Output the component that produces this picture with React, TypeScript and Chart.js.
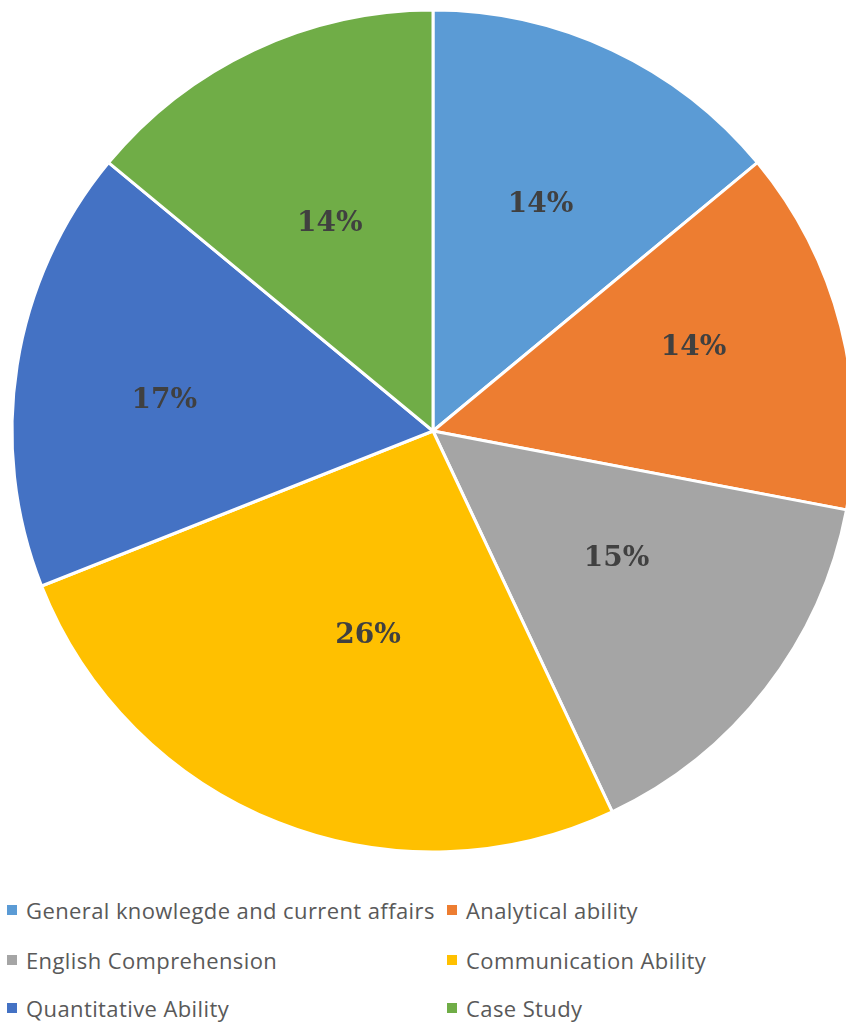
import React, { useEffect, useRef } from "react";
import { Chart, registerables } from "chart.js";

Chart.register(...registerables);

const categories = [
  "General knowlegde and current affairs",
  "Analytical ability",
  "English Comprehension",
  "Communication Ability",
  "Quantitative Ability",
  "Case Study",
];
const shares = [14, 14, 15, 26, 17, 14];
const colors = ["#5B9BD5", "#ED7D31", "#A5A5A5", "#FFC000", "#4472C4", "#70AD47"];
// label placement style: distance from centre as a fraction of the radius, and angle nudge in degrees
const labelRadius = [0.6, 0.651, 0.528, 0.505, 0.643, 0.555];
const labelAngleShift = [0, -3.7, -3.5, -3.8, -2.2, -1.0];
// legend order: [left column, right column] per row
const legendRows = [
  [0, 1],
  [2, 3],
  [4, 5],
];

const labelPlugin = {
  id: "pctLabels",
  afterDatasetsDraw(chart: any) {
    const ctx = chart.ctx;
    const meta = chart.getDatasetMeta(0);
    const data = chart.data.datasets[0].data as number[];
    const total = data.reduce((a, b) => a + b, 0);
    ctx.save();
    ctx.font = "bold 28px 'DejaVu Serif'";
    ctx.fillStyle = "#404040";
    ctx.textAlign = "center";
    ctx.textBaseline = "middle";
    meta.data.forEach((arc: any, i: number) => {
      const { x, y, startAngle, endAngle, outerRadius } = arc.getProps(
        ["x", "y", "startAngle", "endAngle", "outerRadius"],
        true
      );
      const mid = (startAngle + endAngle) / 2 + (labelAngleShift[i] * Math.PI) / 180;
      const r = outerRadius * labelRadius[i];
      const pct = Math.round((data[i] / total) * 100) + "%";
      ctx.fillText(pct, x + Math.cos(mid) * r, y + Math.sin(mid) * r + 2);
    });
    ctx.restore();
  },
};

export default function App() {
  const ref = useRef<HTMLCanvasElement>(null);
  useEffect(() => {
    document.body.style.margin = "0";
    const chart = new Chart(ref.current!, {
      type: "pie",
      data: {
        labels: categories,
        datasets: [
          {
            data: shares,
            backgroundColor: colors,
            borderColor: "#FFFFFF",
            borderWidth: 3,
            radius: 421,
          } as any,
        ],
      },
      options: {
        responsive: false,
        animation: false,
        layout: { padding: 0 },
        plugins: {
          legend: { display: false },
          tooltip: { enabled: false },
        },
      },
      plugins: [labelPlugin],
    });
    return () => chart.destroy();
  }, []);

  return (
    <div
      style={{
        position: "relative",
        width: 846,
        height: 1026,
        overflow: "hidden",
        background: "#FFFFFF",
      }}
    >
      <canvas
        ref={ref}
        width={866}
        height={862}
        style={{ position: "absolute", left: 0, top: 0, width: 866, height: 862 }}
      />
      {legendRows.map((row, ri) =>
        row.map((idx, ci) => (
          <div
            key={idx}
            style={{
              position: "absolute",
              left: ci === 0 ? 7 : 447,
              top: [910, 960, 1008][ri] - 15,
              height: 30,
              display: "flex",
              alignItems: "center",
              fontFamily: "'Open Sans', sans-serif",
              fontSize: 22,
              letterSpacing: 0.4,
              color: "#595959",
              whiteSpace: "nowrap",
            }}
          >
            <span
              style={{
                display: "inline-block",
                width: 10,
                height: 10,
                background: colors[idx],
                marginRight: 9,
              }}
            />
            <span>{categories[idx]}</span>
          </div>
        ))
      )}
    </div>
  );
}
